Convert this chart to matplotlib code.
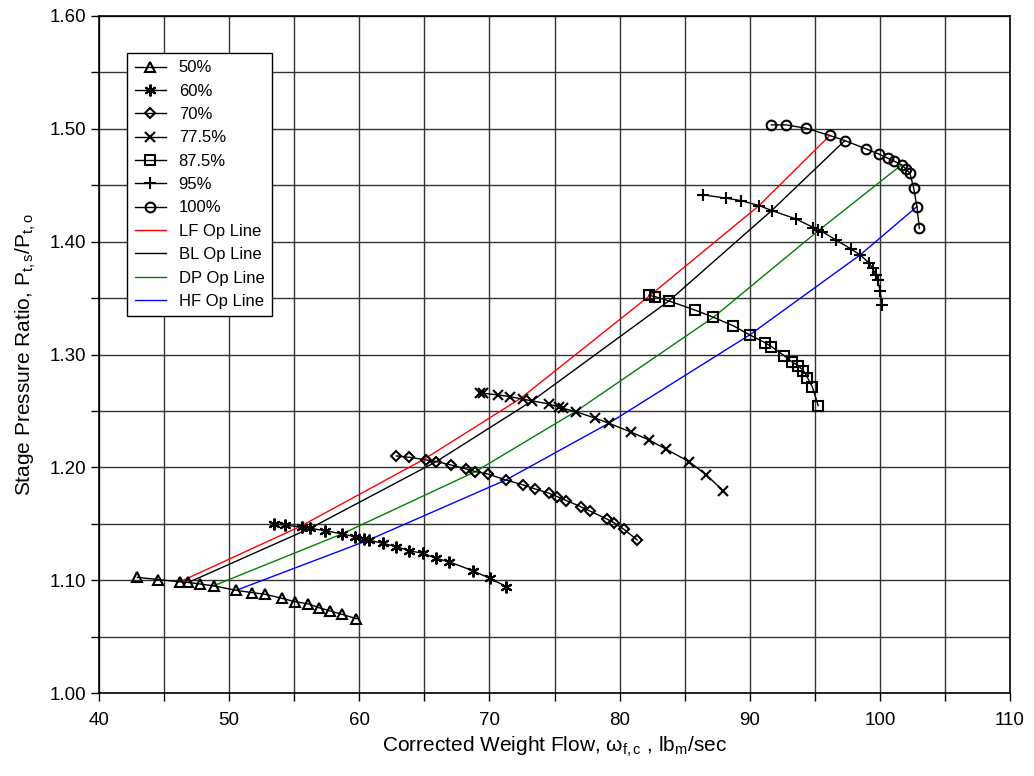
import matplotlib
matplotlib.use("Agg")
import matplotlib.pyplot as plt
from matplotlib.ticker import MultipleLocator, FormatStrFormatter

plt.rcParams['font.family'] = ['Liberation Sans', 'DejaVu Sans']
plt.rcParams['mathtext.fontset'] = 'custom'
plt.rcParams['mathtext.rm'] = 'Liberation Sans'
plt.rcParams['mathtext.it'] = 'Liberation Sans:italic'

# ---- speed lines: corrected weight flow (x) and stage pressure ratio (y) ----
x50 = [42.95, 44.57, 46.23, 46.87, 47.77, 48.80, 50.54, 51.74, 52.77, 54.03, 55.03, 56.08, 56.90, 57.77, 58.67, 59.77]
y50 = [1.1025, 1.1005, 1.0985, 1.0980, 1.0966, 1.0950, 1.0910, 1.0890, 1.0875, 1.0840, 1.0810, 1.0790, 1.0756, 1.0727, 1.0697, 1.0659]

x60 = [53.41, 54.31, 55.59, 56.23, 57.33, 58.67, 59.64, 60.38, 60.72, 61.82, 62.85, 63.85, 64.87, 65.90, 66.87, 68.72, 70.02, 71.31]
y60 = [1.1498, 1.1489, 1.1469, 1.1460, 1.1439, 1.1410, 1.1386, 1.1363, 1.1356, 1.1326, 1.1297, 1.1261, 1.1238, 1.1194, 1.1164, 1.1084, 1.1017, 1.0943]

x70 = [62.85, 63.85, 65.13, 65.92, 67.05, 68.21, 68.92, 69.87, 71.26, 72.59, 73.49, 74.56, 75.21, 75.92, 77.00, 77.72, 79.00, 79.56, 80.33, 81.36]
y70 = [1.2101, 1.2089, 1.2066, 1.2051, 1.2021, 1.1986, 1.1962, 1.1941, 1.1888, 1.1844, 1.1809, 1.1771, 1.1741, 1.1705, 1.1652, 1.1613, 1.1543, 1.1510, 1.1451, 1.1356]

x775 = [69.26, 69.51, 70.64, 71.56, 72.59, 73.28, 74.56, 75.38, 75.64, 76.62, 78.15, 79.18, 80.90, 82.26, 83.54, 85.33, 86.67, 87.95]
y775 = [1.2657, 1.2657, 1.2642, 1.2627, 1.2603, 1.2589, 1.2562, 1.2532, 1.2523, 1.2494, 1.2435, 1.2391, 1.2311, 1.2243, 1.2163, 1.2051, 1.1933, 1.1793]

x875 = [82.26, 82.69, 83.79, 85.77, 87.21, 88.74, 90.00, 91.15, 91.67, 92.64, 93.23, 93.74, 94.13, 94.44, 94.82, 95.26]
y875 = [1.3523, 1.3514, 1.3475, 1.3395, 1.3330, 1.3254, 1.3174, 1.3106, 1.3070, 1.2990, 1.2937, 1.2899, 1.2857, 1.2795, 1.2710, 1.2547]

x95 = [86.41, 88.21, 89.31, 90.72, 91.69, 93.54, 94.90, 95.21, 95.54, 96.62, 97.77, 98.49, 99.18, 99.44, 99.69, 99.82, 100.02, 100.15]
y95 = [1.4415, 1.4385, 1.4364, 1.4320, 1.4276, 1.4202, 1.4125, 1.4105, 1.4090, 1.4016, 1.3936, 1.3883, 1.3809, 1.3765, 1.3706, 1.3661, 1.3567, 1.3440]

x100 = [91.67, 92.77, 94.31, 96.15, 97.31, 98.92, 99.95, 100.59, 101.05, 101.67, 102.00, 102.31, 102.59, 102.85, 103.03]
y100 = [1.5035, 1.5035, 1.5006, 1.4941, 1.4896, 1.4823, 1.4775, 1.4740, 1.4716, 1.4681, 1.4645, 1.4607, 1.4480, 1.4311, 1.4119]

speed_labels = ['50%', '60%', '70%', '77.5%', '87.5%', '95%', '100%']
speed_markers = ['^', (6, 2, 0), 'D', 'x', 's', '+', 'o']

# ---- operating lines ----
x_lf = [46.30, 55.46, 64.95, 72.38, 82.30, 90.72, 96.15]
y_lf = [1.0990, 1.1476, 1.2070, 1.2610, 1.3520, 1.4320, 1.4941]
x_bl = [46.87, 56.23, 65.92, 73.28, 83.79, 91.69, 97.31]
y_bl = [1.0980, 1.1460, 1.2051, 1.2589, 1.3475, 1.4276, 1.4896]
x_dp = [48.80, 58.67, 68.92, 76.62, 87.21, 95.30, 101.67]
y_dp = [1.0950, 1.1410, 1.1962, 1.2494, 1.3330, 1.4100, 1.4681]
x_hf = [50.54, 60.72, 71.26, 79.18, 90.00, 98.49, 102.85]
y_hf = [1.0910, 1.1356, 1.1888, 1.2391, 1.3174, 1.3883, 1.4311]

op_labels = ['LF Op Line', 'BL Op Line', 'DP Op Line', 'HF Op Line']
op_colors = ['#ff0000', '#000000', '#008000', '#0000ff']

fig = plt.figure(figsize=(10.34, 7.76), dpi=100)
ax = fig.add_axes([99/1034, 1 - 693/776, 911/1034, 677/776])

speeds = [(x50, y50), (x60, y60), (x70, y70), (x775, y775), (x875, y875), (x95, y95), (x100, y100)]
msizes = [7, 8.5, 5.5, 7.5, 6.5, 8, 7]
for (xs, ys), lab, mk, ms in zip(speeds, speed_labels, speed_markers, msizes):
    ax.plot(xs, ys, color='black', lw=1.0, marker=mk, markersize=ms,
            markerfacecolor='none', markeredgecolor='black', markeredgewidth=1.5,
            label=lab, zorder=3)

ops = [(x_lf, y_lf), (x_bl, y_bl), (x_dp, y_dp), (x_hf, y_hf)]
for (xs, ys), lab, c in zip(ops, op_labels, op_colors):
    ax.plot(xs, ys, color=c, lw=1.0, label=lab, zorder=2)

ax.set_xlim(40, 110)
ax.set_ylim(1.0, 1.6)
ax.xaxis.set_major_locator(MultipleLocator(10))
ax.xaxis.set_minor_locator(MultipleLocator(5))
ax.yaxis.set_major_locator(MultipleLocator(0.1))
ax.yaxis.set_minor_locator(MultipleLocator(0.05))
ax.yaxis.set_major_formatter(FormatStrFormatter('%.2f'))
ax.grid(True, which='both', color='#333333', lw=1.0, zorder=0)
ax.set_axisbelow(True)
ax.tick_params(which='both', direction='out', length=6, width=1, labelsize=13.5, colors='black')
ax.tick_params(axis='x', pad=8)
for s in ax.spines.values():
    s.set_linewidth(1.2)

ax.set_xlabel(r'Corrected Weight Flow, ω$_\mathregular{f,c}$ , lb$_\mathregular{m}$/sec', fontsize=15, labelpad=4)
ax.set_ylabel(r'Stage Pressure Ratio, P$_\mathregular{t,s}$/P$_\mathregular{t,o}$', fontsize=15, labelpad=8)

leg = ax.legend(loc='upper left', bbox_to_anchor=(28/911, (693-53)/677), borderaxespad=0,
                fontsize=12, frameon=True, fancybox=False, shadow=False,
                handlelength=1.9, labelspacing=0.5, borderpad=0.45, handletextpad=0.75)
leg.get_frame().set_edgecolor('black')
leg.get_frame().set_linewidth(1.0)
leg.get_frame().set_alpha(1.0)

fig.savefig('out.png', dpi=100)
